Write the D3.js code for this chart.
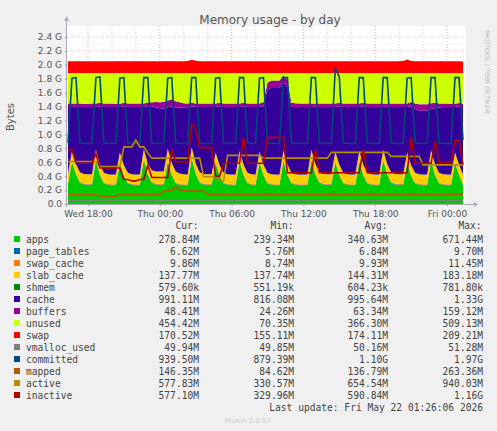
<!DOCTYPE html>
<html><head><meta charset="utf-8">
<script src="https://cdn.jsdelivr.net/npm/d3@7/dist/d3.min.js"></script>
<style>body{margin:0;background:#f0f0f0}svg{display:block}</style>
</head><body><svg id="c" width="497" height="431"></svg>
<script>
// values in MiB, 20-minute samples starting Wed 2026-05-20 16:20
const apps=[290,620,430,310,285,280,280,640,420,300, 280,275,275,600,410,300,280,275,275,650, 430,310,285,280,280,620,420,300,280,275, 275,671,440,310,285,280,280,600,410,300, 280,275,275,620,420,300,280,275,610,420, 300,280,275,275,630,420,300,280,275,275, 275,640,430,310,285,280,280,610,420,300, 280,275,275,620,420,300,280,275,275,640, 430,310,285,280,280,600,410,300,280,275, 275,630,420,300,280,275,275,600,420,279];
const pageTables=[6.8,7,7,6.9,6.8,6.8,6.8,7,7,6.9, 6.8,6.8,6.8,7,7,6.9,6.8,6.8,6.8,7, 7,6.9,6.8,6.8,6.8,7,7,6.9,6.8,6.8, 6.8,9.7,7,6.9,6.8,6.8,6.8,7,7,6.9, 6.8,6.8,6.8,7,7,6.9,6.8,6.8,7,7, 6.9,6.8,6.8,6.8,7,7,6.9,6.8,6.8,6.8, 6.8,7,7,6.9,6.8,6.8,6.8,7,7,6.9, 6.8,6.8,6.8,7,7,6.9,6.8,6.8,6.8,7, 7,6.9,6.8,6.8,6.8,7,7,6.9,6.8,6.8, 6.8,7,7,6.9,6.8,6.8,6.8,7,7,6.6];
const swapCache=[9.9,9.9,9.9,9.9,9.9,9.9,9.9,9.9,9.9,9.9, 9.9,9.9,9.9,9.9,9.9,9.9,9.9,9.9,9.9,9.9, 9.9,9.9,10,10,10,10,10,10,9.9,9.9, 9.9,11.4,10,9.9,9.9,9.9,9.9,9.9,9.9,9.9, 9.9,9.9,9.9,9.9,9.9,9.9,9.9,9.9,9.9,9.9, 9.9,9.9,9.9,9.9,9.9,9.9,9.9,9.9,9.9,9.9, 9.9,9.9,9.9,9.9,9.9,9.9,9.9,9.9,9.9,9.9, 9.9,9.9,9.9,9.9,9.9,9.9,9.9,9.9,9.9,9.9, 9.9,9.9,9.9,9.9,9.9,9.9,9.9,9.9,9.9,9.9, 9.9,9.9,9.9,9.9,9.9,9.9,9.9,9.9,9.9,9.9];
const slabCache=[140,141,142,141,140,140,140,141,142,141, 140,140,140,141,142,141,140,140,140,141, 150,170,175,180,183,175,170,160,150,145, 142,143,142,141,140,140,140,141,142,141, 140,140,140,141,142,141,140,140,141,142, 141,140,140,140,141,142,141,140,140,140, 140,141,142,141,140,140,140,141,142,141, 140,140,140,141,142,141,140,140,140,141, 142,141,140,140,140,141,142,141,140,140, 140,141,142,141,140,140,140,141,142,138];
const shmem=[0.6,0.6,0.6,0.6,0.6,0.6,0.6,0.6,0.6,0.6, 0.6,0.6,0.6,0.6,0.6,0.6,0.6,0.6,0.6,0.6, 0.6,0.6,0.6,0.6,0.6,0.6,0.6,0.6,0.6,0.6, 0.6,0.8,0.6,0.6,0.6,0.6,0.6,0.6,0.6,0.6, 0.6,0.6,0.6,0.6,0.6,0.6,0.6,0.6,0.6,0.6, 0.6,0.6,0.6,0.6,0.6,0.6,0.6,0.6,0.6,0.6, 0.6,0.6,0.6,0.6,0.6,0.6,0.6,0.6,0.6,0.6, 0.6,0.6,0.6,0.6,0.6,0.6,0.6,0.6,0.6,0.6, 0.6,0.6,0.6,0.6,0.6,0.6,0.6,0.6,0.6,0.6, 0.6,0.6,0.6,0.6,0.6,0.6,0.6,0.6,0.6,0.6];
const cache=[980,650,840,960,985,990,990,630,860,970, 990,995,995,670,870,970,990,995,995,620, 840,940,945,930,925,610,830,940,970,985, 990,600,830,960,985,990,990,670,870,970, 990,995,995,650,860,970,990,995,660,860, 1230,1270,1275,1275,1000,1140,970,990,995,995, 995,630,840,960,985,990,990,660,860,970, 990,995,995,650,860,970,990,995,995,630, 840,960,985,990,990,670,870,940,940,945, 945,610,830,960,990,995,995,670,860,991];
const buffers=[50,50,50,50,48,48,50,50,50,50, 50,50,48,48,50,50,50,50,50,50, 55,60,80,90,95,100,100,95,80,60, 55,55,50,50,50,50,50,50,50,50, 50,50,50,50,50,50,50,50,50,60, 100,110,110,110,105,100,60,55,50,50, 50,50,50,50,50,50,50,50,50,50, 50,50,50,50,50,50,50,50,50,50, 50,50,50,50,50,50,60,80,90,90, 90,85,80,60,50,50,48,48,48,48];
const swap=[172,172,172,172,172,172,172,172,172,172, 172,172,172,172,172,172,172,172,172,172, 172,172,172,172,172,172,172,172,172,172, 176,195,180,172,172,172,172,172,172,172, 172,172,172,172,172,172,172,172,172,172, 172,172,172,172,172,172,172,172,172,172, 172,172,172,172,172,172,172,172,172,172, 172,172,172,172,172,172,172,172,172,172, 172,172,172,172,176,200,176,172,172,172, 172,172,172,172,172,172,172,172,172,171];
const vmallocUsed=[50,50,50,50,50,50,50,50,50,50, 50,50,50,50,50,50,50,50,50,50, 50,50,50,50,50,50,50,50,50,50, 50,51,50,50,50,50,50,50,50,50, 50,50,50,50,50,50,50,50,50,50, 50,50,50,50,50,50,50,50,50,50, 50,50,50,50,50,50,50,50,50,50, 50,50,50,50,50,50,50,50,50,50, 50,50,50,50,50,50,50,50,50,50, 50,50,50,50,50,50,50,50,50,50];
const committed=[900,1850,1860,900,890,890,890,1860,1870,900, 890,890,890,1850,1860,900,890,890,890,1860, 1860,900,890,890,890,1850,1860,900,890,890, 890,1860,1860,900,890,890,890,1850,1860,900, 890,890,890,1860,1860,900,890,890,1850,1860, 900,890,890,890,1860,1860,900,890,890,890, 890,1860,1860,900,890,890,890,2000,1870,900, 890,890,890,1860,1860,900,890,890,890,1860, 1860,900,890,890,890,1850,1860,900,890,890, 890,1860,1860,900,890,890,890,1860,1860,940];
const mapped=[140,140,142,140,140,140,140,142,115,115, 115,115,115,140,140,140,140,142,140,140, 140,142,140,140,190,195,200,263,200,195, 190,195,190,190,190,140,140,142,140,140, 140,140,140,142,140,140,140,140,140,140, 142,140,140,140,140,142,140,140,140,140, 140,142,140,140,140,140,142,140,140,140, 140,142,140,140,140,140,142,140,140,140, 140,142,140,140,140,140,142,140,140,140, 140,142,140,140,140,140,142,140,140,146];
const active=[625,625,625,625,625,625,625,625,550,550, 550,550,550,550,840,840,840,940,840,840, 750,675,675,675,675,675,675,675,675,675, 675,675,675,675,400,400,400,400,340,340, 715,715,715,715,715,715,715,715,715,675, 675,675,675,675,675,675,675,675,675,675, 675,675,675,675,675,675,760,760,760,760, 760,760,760,760,760,760,760,760,760,760, 760,700,700,700,700,700,700,700,700,575, 575,575,575,575,575,575,575,575,575,578];
const inactive=[800,800,600,600,600,600,600,740,530,530, 530,530,530,530,360,360,340,340,360,360, 570,390,390,390,390,390,800,620,620,620, 620,1180,1100,830,830,830,830,410,410,600, 600,600,600,600,980,600,600,600,600,600, 980,980,980,980,980,460,460,460,460,460, 460,460,800,460,460,460,460,460,460,460, 460,460,460,460,800,460,460,460,460,460, 460,460,460,460,460,460,980,600,600,600, 600,600,920,610,610,610,610,940,940,577];

const names=["apps","page_tables","swap_cache","slab_cache","shmem","cache","buffers","unused","swap","vmalloc_used","committed","mapped","active","inactive"];
const colors=["#00CC00","#0066B3","#FF8000","#FFCC00","#008F00","#330099","#990099","#CCFF00","#FF0000","#808080","#00487D","#B35A00","#B38F00","#B30000"];
const curV=["278.84M","6.62M","9.86M","137.77M","579.60k","991.11M","48.41M","454.42M","170.52M","49.94M","939.50M","146.35M","577.83M","577.10M"];
const minV=["239.34M","5.76M","8.74M","137.74M","551.19k","816.08M","24.26M","70.35M","155.11M","49.85M","879.39M","84.62M","330.57M","329.96M"];
const avgV=["340.63M","6.84M","9.93M","144.31M","604.23k","995.64M","63.34M","366.30M","174.11M","50.16M","1.10G","136.79M","654.54M","590.84M"];
const maxV=["671.44M","9.70M","11.45M","183.18M","781.80k","1.33G","159.12M","509.13M","209.21M","51.28M","1.97G","263.36M","940.03M","1.16G"];
const yTicks=[0,0.2,0.4,0.6,0.8,1.0,1.2,1.4,1.6,1.8,2.0,2.2,2.4];
const xTickLabels=["Wed 18:00","Thu 00:00","Thu 06:00","Thu 12:00","Thu 18:00","Fri 00:00"];
const RAM=1927;

const t0=new Date(2026,4,20,16,20);
const times=apps.map((_,i)=>new Date(+t0+i*20*60000));
const unused=apps.map((_,i)=>Math.max(0,RAM-apps[i]-pageTables[i]-swapCache[i]-slabCache[i]-shmem[i]-cache[i]-buffers[i]));
const rows=apps.map((_,i)=>({t:times[i],apps:apps[i],page_tables:pageTables[i],swap_cache:swapCache[i],slab_cache:slabCache[i],shmem:shmem[i],cache:cache[i],buffers:buffers[i],unused:unused[i],swap:swap[i]}));
const stackKeys=names.slice(0,9);

const svg=d3.select("#c");
const L=67,R=466,T=30,B=204;
const x=d3.scaleTime().domain([new Date(2026,4,20,16,15),new Date(2026,4,22,1,35)]).range([L,R]);
const y=d3.scaleLinear().domain([0,2.5*1024]).range([B,T]);
svg.append("rect").attr("x",L).attr("y",T-4).attr("width",R-L).attr("height",B-T+4).attr("fill","#fff");

const g=svg.append("g");
for(let v=0.1;v<=2.45;v+=0.1){g.append("line").attr("x1",L).attr("x2",R).attr("y1",y(v*1024)).attr("y2",y(v*1024)).attr("stroke",Math.abs(v*5-Math.round(v*5))<0.01?"#e0a8a8":"#ddd").attr("stroke-dasharray","1,2").attr("stroke-width",0.8);}
const hrs=d3.timeHour.every(2).range(x.domain()[0],x.domain()[1]);
hrs.forEach(h=>g.append("line").attr("x1",x(h)).attr("x2",x(h)).attr("y1",T-4).attr("y2",B).attr("stroke",h.getHours()%6===0?"#e09090":"#eab8b8").attr("stroke-dasharray","1,2").attr("stroke-width",0.8));

const st=d3.stack().keys(stackKeys)(rows);
const area=d3.area().x(d=>x(d.data.t)).y0(d=>y(d[0])).y1(d=>y(d[1]));
svg.append("g").selectAll("path").data(st).join("path").attr("d",area).attr("fill",(d,i)=>colors[i]);

const lineSeries=[vmallocUsed,committed,mapped,active,inactive];
const line=d3.line().x((d,i)=>x(times[i])).y(d=>y(d));
lineSeries.forEach((s,j)=>svg.append("path").attr("d",line(s)).attr("fill","none").attr("stroke",colors[9+j]).attr("stroke-width",j===0?1:1.6));

svg.append("line").attr("x1",L).attr("x2",R+8).attr("y1",B+0.5).attr("y2",B+0.5).attr("stroke","#aab");
svg.append("line").attr("x1",L-0.5).attr("x2",L-0.5).attr("y1",B+3).attr("y2",T-10).attr("stroke","#aab");
svg.append("path").attr("d",`M${R+8},${B-2}L${R+12},${B+0.5}L${R+8},${B+3}Z`).attr("fill","#aac");
svg.append("path").attr("d",`M${L-3},${T-9}L${L-0.5},${T-14}L${L+2},${T-9}Z`).attr("fill","#aac");
const yAx=d3.axisLeft(y).tickValues(yTicks.map(v=>v*1024)).tickSize(2).tickFormat((d,i)=>yTicks[i]===0?"0.0":yTicks[i].toFixed(1)+" G");
const ya=svg.append("g").attr("transform",`translate(${L},0)`).call(yAx);
ya.select(".domain").remove();
ya.selectAll("text").attr("font-family","DejaVu Sans").attr("font-size",9).attr("fill","#555");
ya.selectAll("line").attr("stroke","#999");
const xVals=[new Date(2026,4,20,18),new Date(2026,4,21,0),new Date(2026,4,21,6),new Date(2026,4,21,12),new Date(2026,4,21,18),new Date(2026,4,22,0)];
const xAx=d3.axisBottom(x).tickValues(xVals).tickSize(2).tickFormat((d,i)=>xTickLabels[i]);
const xa=svg.append("g").attr("transform",`translate(0,${B})`).call(xAx);
xa.select(".domain").remove();
xa.selectAll("text").attr("font-family","DejaVu Sans").attr("font-size",9).attr("fill","#555").attr("dy","0.9em");
xa.selectAll("line").attr("stroke","#999");

svg.append("text").attr("x",270).attr("y",24).attr("text-anchor","middle").attr("font-family","DejaVu Sans").attr("font-size",12).attr("fill","#555").text("Memory usage - by day");
svg.append("text").attr("transform","translate(14,117) rotate(-90)").attr("text-anchor","middle").attr("font-family","DejaVu Sans").attr("font-size",10).attr("fill","#555").text("Bytes");
svg.append("text").attr("transform","translate(485,30) rotate(90)").attr("font-family","DejaVu Sans").attr("font-size",6.5).attr("fill","#bbb").text("RRDTOOL / TOBI OETIKER");

const mono="DejaVu Sans Mono";
const lg=svg.append("g").attr("font-family",mono).attr("font-size",9.6).attr("fill","#444");
[["Cur:",187],["Min:",282],["Avg:",376],["Max:",470]].forEach(([s,xx])=>lg.append("text").attr("x",xx).attr("y",229).attr("text-anchor","middle").text(s));
names.forEach((n,i)=>{
  const yy=243+i*12;
  lg.append("rect").attr("x",14).attr("y",yy-7).attr("width",6).attr("height",6).attr("fill",colors[i]);
  lg.append("text").attr("x",26).attr("y",yy).text(n);
  [[curV,199],[minV,294],[avgV,388],[maxV,483]].forEach(([arr,xx])=>lg.append("text").attr("x",xx).attr("y",yy).attr("text-anchor","end").text(arr[i]));
});
lg.append("text").attr("x",483).attr("y",411).attr("text-anchor","end").text("Last update: Fri May 22 01:26:06 2026");
svg.append("text").attr("x",248).attr("y",423).attr("text-anchor","middle").attr("font-family","DejaVu Sans").attr("font-size",7).attr("fill","#ccc").text("Munin 2.0.57");
</script></body></html>
